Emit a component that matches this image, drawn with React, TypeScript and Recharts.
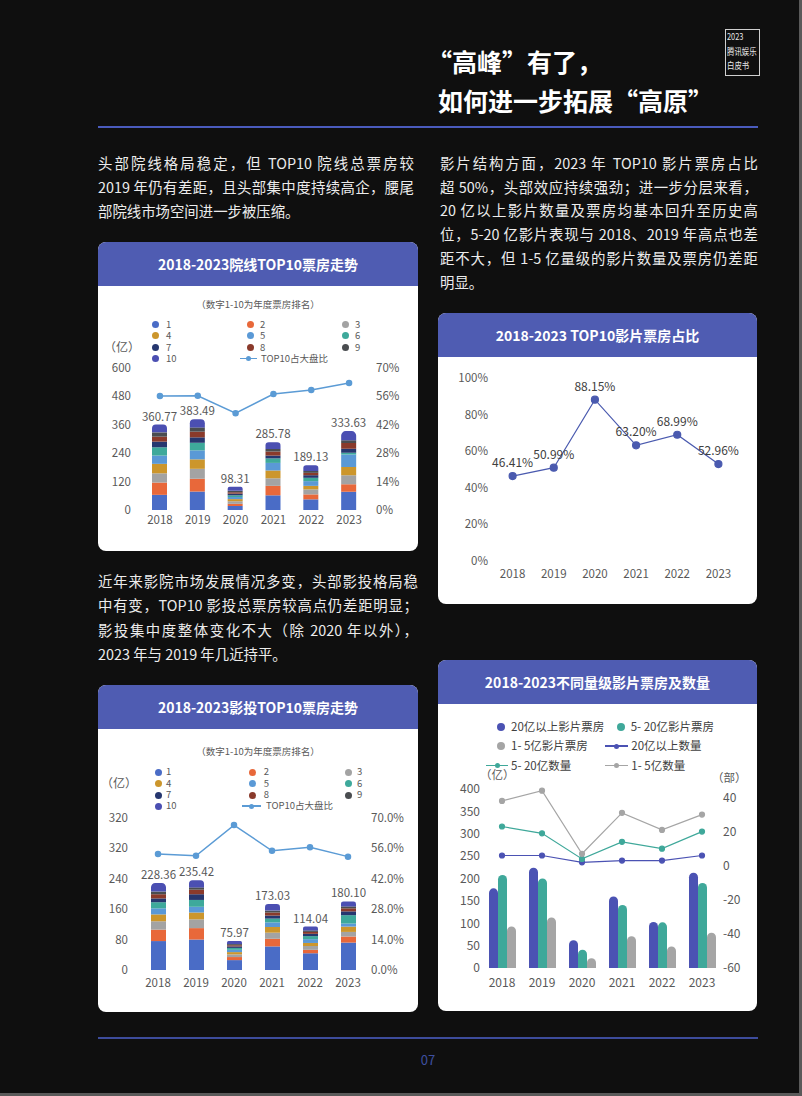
import React from "react";
import { ComposedChart, LineChart, Bar, Line, XAxis, YAxis, LabelList } from "recharts";

// ---- data ----
const years = ["2018", "2019", "2020", "2021", "2022", "2023"];
const rankNames = ["1", "2", "3", "4", "5", "6", "7", "8", "9", "10"];

// 院线 TOP10, one row per year, ranks 1..10 (亿)
const cinemaSegments = [
  [64, 52, 39, 40, 35, 35, 24, 21, 18, 32.77],
  [78, 54, 42, 40, 38, 32, 23, 24, 18, 34.49],
  [17, 9, 11, 9, 9, 7, 7, 6, 6, 17.31],
  [62, 40, 32, 33, 32, 19, 12, 17, 11, 27.78],
  [45, 21, 21, 15, 20, 14, 11, 10, 8, 24.13],
  [77, 32, 38, 35, 52, 8, 17, 24, 12, 38.63],
];
const cinemaTotals = [360.77, 383.49, 98.31, 285.78, 189.13, 333.63];
const cinemaShare = [56.2, 56.3, 47.7, 57.2, 59.2, 62.6];

// 影投 TOP10
const investorSegments = [
  [76, 30, 22, 18, 16, 16, 10, 11, 7, 22.36],
  [80, 30, 23, 18, 15, 18, 15, 12, 6, 18.42],
  [26, 8, 7, 6, 6, 5, 4, 3, 3, 7.97],
  [62, 20, 16, 15, 12, 10, 8, 8, 5, 17.03],
  [44, 9, 10, 8, 10, 8, 6, 5, 4, 10.04],
  [72, 16, 12, 14, 8, 22, 10, 8, 5, 13.1],
];
const investorTotals = [228.36, 235.42, 75.97, 173.03, 114.04, 180.1];
const investorShare = [53.3, 52.5, 66.6, 54.8, 56.4, 52.1];

// TOP10 影片票房占比 (%)
const filmShare = [46.41, 50.99, 88.15, 63.2, 68.99, 52.96];

// 不同量级
const bigBox = [178, 224, 62, 160, 103, 213];
const midBox = [208, 200, 41, 141, 102, 190];
const smallBox = [93, 113, 22, 71, 48, 79];
const bigCount = [6, 6, 2, 3, 3, 6];
const midCount = [23, 19, 4, 14, 10, 20];
const smallCount = [38, 44, 7, 31, 21, 30];

const cinemaLeftTicks = [0, 120, 240, 360, 480, 600];
const shareTicks = [0, 14, 28, 42, 56, 70];
const investorLeftTicks = [0, 80, 160, 240, 320, 400];
const investorLeftLabels = ["0", "80", "160", "240", "320", "320"];
const filmTicks = [0, 20, 40, 60, 80, 100];
const boxTicks = [0, 50, 100, 150, 200, 250, 300, 350, 400];
const countTicks = [-60, -40, -20, 0, 20, 40];

// ---- styles ----
const FONT = "'Noto Sans CJK SC','Noto Sans',sans-serif";
const AXIS = "#595959";
const HEAD = "#4f5cb2";
const rankColors = [
  "#4a6cc6", "#e8683a", "#a3a3a3", "#cc962c", "#5a99d6",
  "#3ea99b", "#26376f", "#8a3a2b", "#4a4d50", "#4b4fb2",
];
const BIG = "#4b52b3";
const MID = "#3fa89a";
const SMALL = "#a5a5a5";

const tickStyle = { fontSize: 11.5, fill: AXIS };

function Card({ x, y, w, h, title }: { x: number; y: number; w: number; h: number; title: string }) {
  return (
    <div style={{ position: "absolute", left: x, top: y, width: w, height: h, background: "#fff", borderRadius: 8, overflow: "hidden" }}>
      <div style={{ height: 44, background: HEAD, color: "#fff", fontWeight: 700, fontSize: 14, lineHeight: "44px", textAlign: "center" }}>
        {title}
      </div>
    </div>
  );
}

function Para({ lines, x, y, width, lh }: { lines: string[]; x: number; y: number; width: number; lh: number }) {
  return (
    <div style={{ position: "absolute", left: x, top: y, width, color: "#ececec", fontSize: 14.4, lineHeight: `${lh}px` }}>
      {lines.map((t, i) => (
        <div key={i} style={{ textAlign: "justify", textAlignLast: i < lines.length - 1 ? "justify" : "left" }}>
          {t}
        </div>
      ))}
    </div>
  );
}

function Txt({ x, y, children, size = 10, color = "#404040", center = false }: any) {
  return (
    <div style={{ position: "absolute", left: x, top: y, fontSize: size, color, lineHeight: "1", whiteSpace: "nowrap", transform: center ? "translateX(-50%)" : undefined }}>
      {children}
    </div>
  );
}

function Dot({ x, y, color, r = 3.5 }: { x: number; y: number; color: string; r?: number }) {
  return <div style={{ position: "absolute", left: x - r, top: y - r, width: r * 2, height: r * 2, borderRadius: "50%", background: color }} />;
}

function LineMark({ x1, x2, y, color }: { x1: number; x2: number; y: number; color: string }) {
  return (
    <>
      <div style={{ position: "absolute", left: x1, top: y - 0.75, width: x2 - x1, height: 1.5, background: color }} />
      <Dot x={(x1 + x2) / 2} y={y} color={color} r={2.5} />
    </>
  );
}

function RankLegend({ subX, subY, rows, dotXs, textXs, lineX1, lineX2, lineTextX, unitX, unitY }: any) {
  return (
    <>
      <Txt x={subX} y={subY - 5} size={9.5} color={AXIS} center>（数字1-10为年度票房排名）</Txt>
      {rankNames.map((n, i) => {
        const row = Math.floor(i / 3);
        const col = i % 3;
        return (
          <React.Fragment key={n}>
            <Dot x={dotXs[col]} y={rows[row]} color={rankColors[i]} />
            <Txt x={textXs[col]} y={rows[row] - 4.8} size={9.5} color={AXIS}>{n}</Txt>
          </React.Fragment>
        );
      })}
      <LineMark x1={lineX1} x2={lineX2} y={rows[3]} color="#5b9bd5" />
      <Txt x={lineTextX} y={rows[3] - 4.8} size={9.5} color={AXIS}>TOP10占大盘比</Txt>
      <Txt x={unitX} y={unitY - 6} size={12} color={AXIS}>（亿）</Txt>
    </>
  );
}

function RankChart({ segments, totals, share, x, y, w, h, top, leftW, rightW, xH, leftTicks, leftLabels, rightFmt, lm, rm, xm }: any) {
  const data = years.map((yr, yi) => {
    const row: any = { year: yr, total: totals[yi], share: share[yi] };
    rankNames.forEach((_, ri) => (row[`r${ri}`] = segments[yi][ri]));
    return row;
  });
  return (
    <div style={{ position: "absolute", left: x, top: y }}>
      <ComposedChart width={w} height={h} data={data} margin={{ top, right: 0, left: 0, bottom: 0 }}>
        <XAxis dataKey="year" axisLine={false} tickLine={false} tickSize={0} tickMargin={xm} height={xH} tick={tickStyle} />
        <YAxis yAxisId="left" domain={[leftTicks[0], leftTicks[leftTicks.length - 1]]} ticks={leftTicks} interval={0}
          tickFormatter={(v: number, i: number) => (leftLabels ? leftLabels[i] : String(v))}
          axisLine={false} tickLine={false} tickSize={0} tickMargin={lm} width={leftW} tick={tickStyle} />
        <YAxis yAxisId="right" orientation="right" domain={[0, 70]} ticks={shareTicks} interval={0} tickFormatter={rightFmt}
          axisLine={false} tickLine={false} tickSize={0} tickMargin={rm} width={rightW} tick={tickStyle} />
        {rankNames.map((n, ri) => (
          <Bar key={n} yAxisId="left" dataKey={`r${ri}`} stackId="s" fill={rankColors[ri]} barSize={15}
            radius={ri === 9 ? [7.5, 7.5, 0, 0] : 0} isAnimationActive={false}>
            {ri === 9 && (
              <LabelList dataKey="total" position="top" offset={4} formatter={(v: any) => Number(v).toFixed(2)}
                style={{ fontSize: 11.5, fill: AXIS }} />
            )}
          </Bar>
        ))}
        <Line yAxisId="right" dataKey="share" stroke="#5b9bd5" strokeWidth={1.5}
          dot={{ r: 2.5, fill: "#5b9bd5", stroke: "#5b9bd5" }} isAnimationActive={false} />
      </ComposedChart>
    </div>
  );
}

function FilmShareChart() {
  const data = years.map((yr, i) => ({ year: yr, share: filmShare[i] }));
  return (
    <div style={{ position: "absolute", left: 438, top: 357 }}>
      <LineChart width={319} height={247} data={data} margin={{ top: 21, right: 18, left: 0, bottom: 0 }}>
        <XAxis dataKey="year" axisLine={false} tickLine={false} tickSize={0} tickMargin={9} height={43} tick={tickStyle}
          padding={{ left: 20.6, right: 20.6 }} />
        <YAxis domain={[0, 100]} ticks={filmTicks} interval={0} tickFormatter={(v: number) => `${v}%`}
          axisLine={false} tickLine={false} tickSize={0} tickMargin={4} width={54} tick={tickStyle} />
        <Line dataKey="share" stroke="#4a5aaf" strokeWidth={1.2} dot={{ r: 3.5, fill: "#4a5aaf", stroke: "#4a5aaf" }} isAnimationActive={false}>
          <LabelList dataKey="share" position="top" offset={9} formatter={(v: any) => `${Number(v).toFixed(2)}%`}
            style={{ fontSize: 12, fill: "#404040" }} />
        </Line>
      </LineChart>
    </div>
  );
}

function TierChart() {
  const data = years.map((yr, i) => ({
    year: yr, big: bigBox[i], mid: midBox[i], small: smallBox[i],
    bigN: bigCount[i], midN: midCount[i], smallN: smallCount[i],
  }));
  const r: [number, number, number, number] = [4.5, 4.5, 0, 0];
  return (
    <div style={{ position: "absolute", left: 438, top: 704 }}>
      <ComposedChart width={319} height={307} data={data} barGap={0} margin={{ top: 85, right: 0, left: 0, bottom: 0 }}>
        <XAxis dataKey="year" axisLine={false} tickLine={false} tickSize={0} tickMargin={10} height={43} tick={{ fontSize: 12, fill: AXIS }} />
        <YAxis yAxisId="l" domain={[0, 400]} ticks={boxTicks} interval={0} axisLine={false} tickLine={false}
          tickSize={0} tickMargin={2} width={44} tick={{ fontSize: 12, fill: AXIS }} />
        <YAxis yAxisId="r" orientation="right" domain={[-60, 45]} ticks={countTicks} interval={0} axisLine={false} tickLine={false}
          tickSize={0} tickMargin={1} width={35} tick={{ fontSize: 12, fill: AXIS }} />
        <Bar yAxisId="l" dataKey="big" fill={BIG} barSize={9} radius={r} isAnimationActive={false} />
        <Bar yAxisId="l" dataKey="mid" fill={MID} barSize={9} radius={r} isAnimationActive={false} />
        <Bar yAxisId="l" dataKey="small" fill={SMALL} barSize={9} radius={r} isAnimationActive={false} />
        <Line yAxisId="r" dataKey="bigN" stroke={BIG} strokeWidth={1.2} dot={{ r: 2.5, fill: BIG, stroke: BIG }} isAnimationActive={false} />
        <Line yAxisId="r" dataKey="midN" stroke={MID} strokeWidth={1.2} dot={{ r: 2.5, fill: MID, stroke: MID }} isAnimationActive={false} />
        <Line yAxisId="r" dataKey="smallN" stroke={SMALL} strokeWidth={1.2} dot={{ r: 2.5, fill: SMALL, stroke: SMALL }} isAnimationActive={false} />
      </ComposedChart>
    </div>
  );
}

const para1 = [
  "头部院线格局稳定，但 TOP10 院线总票房较",
  "2019 年仍有差距，且头部集中度持续高企，腰尾",
  "部院线市场空间进一步被压缩。",
];
const para2 = [
  "影片结构方面，2023 年 TOP10 影片票房占比",
  "超 50%，头部效应持续强劲；进一步分层来看，",
  "20 亿以上影片数量及票房均基本回升至历史高",
  "位，5-20 亿影片表现与 2018、2019 年高点也差",
  "距不大，但 1-5 亿量级的影片数量及票房仍差距",
  "明显。",
];
const para3 = [
  "近年来影院市场发展情况多变，头部影投格局稳",
  "中有变，TOP10 影投总票房较高点仍差距明显；",
  "影投集中度整体变化不大（除 2020 年以外），",
  "2023 年与 2019 年几近持平。",
];

const logoLine: React.CSSProperties = { whiteSpace: "nowrap", transform: "scaleX(0.82)", transformOrigin: "left" };

export default function App() {
  return (
    <div style={{ position: "absolute", left: 0, top: 0, width: 802, height: 1096, background: "#0f0f0f", overflow: "hidden", fontFamily: FONT }}>
      {/* logo */}
      <div style={{ position: "absolute", left: 725, top: 29, width: 32, height: 45, border: "1px solid #cfcfcf", color: "#e6e6e6", fontSize: 9, lineHeight: "14.5px", paddingLeft: 1, overflow: "hidden" }}>
        <div style={logoLine}>2023</div>
        <div style={logoLine}>腾讯娱乐</div>
        <div style={logoLine}>白皮书</div>
      </div>
      <div style={{ position: "absolute", left: 427, top: 46, color: "#fff", fontSize: 25, fontWeight: 700, lineHeight: "30px", whiteSpace: "nowrap" }}>“高峰”有了，</div>
      <div style={{ position: "absolute", left: 438, top: 85, color: "#fff", fontSize: 25, fontWeight: 700, lineHeight: "30px", whiteSpace: "nowrap" }}>如何进一步拓展“高原”</div>
      <div style={{ position: "absolute", left: 98, top: 126, width: 660, height: 2, background: "#4a5bbd" }} />

      <Para lines={para1} x={98} y={151} width={316} lh={24} />
      <Para lines={para2} x={440} y={151} width={318} lh={23.7} />
      <Para lines={para3} x={98} y={569} width={320} lh={24.4} />

      <Card x={98} y={242} w={320} h={309} title="2018-2023院线TOP10票房走势" />
      <RankLegend subX={258} subY={305} rows={[324.3, 335.7, 347.3, 358.3]} dotXs={[155.3, 250.7, 345.3]} textXs={[166, 260, 355]}
        lineX1={239.7} lineX2={257} lineTextX={261} unitX={104} unitY={347} />
      <RankChart segments={cinemaSegments} totals={cinemaTotals} share={cinemaShare}
        x={98} y={285} w={320} h={266} top={83} leftW={43} rightW={50} xH={41}
        leftTicks={cinemaLeftTicks} rightFmt={(v: number) => `${v}%`} lm={10} rm={8} xm={6} />

      <Card x={438} y={313} w={319} h={291} title="2018-2023 TOP10影片票房占比" />
      <FilmShareChart />

      <Card x={98} y={685} w={320} h={327} title="2018-2023影投TOP10票房走势" />
      <RankLegend subX={258} subY={752} rows={[772, 783.7, 795, 806]} dotXs={[158, 252, 348.7]} textXs={[166, 263.7, 357]}
        lineX1={242} lineX2={261} lineTextX={266} unitX={101} unitY={783} />
      <RankChart segments={investorSegments} totals={investorTotals} share={investorShare}
        x={98} y={729} w={320} h={283} top={88.7} leftW={41} rightW={51} xH={42}
        leftTicks={investorLeftTicks} leftLabels={investorLeftLabels} rightFmt={(v: number) => `${v.toFixed(1)}%`} lm={11} rm={4} xm={9} />

      <Card x={438} y={660} w={319} h={351} title="2018-2023不同量级影片票房及数量" />
      <Dot x={501.3} y={727.3} color={BIG} r={4} />
      <Txt x={511} y={721.3} size={11.5}>20亿以上影片票房</Txt>
      <Dot x={620.7} y={727.3} color={MID} r={4} />
      <Txt x={630.7} y={721.3} size={11.5}>5- 20亿影片票房</Txt>
      <Dot x={501.3} y={746} color={SMALL} r={4} />
      <Txt x={511} y={740} size={11.5}>1- 5亿影片票房</Txt>
      <LineMark x1={604.7} x2={628} y={746} color={BIG} />
      <Txt x={631.3} y={740} size={11.5}>20亿以上数量</Txt>
      <LineMark x1={486.3} x2={508} y={765.7} color={MID} />
      <Txt x={511} y={759.7} size={11.5}>5- 20亿数量</Txt>
      <LineMark x1={604.7} x2={628} y={765.7} color={SMALL} />
      <Txt x={631.3} y={759.7} size={11.5}>1- 5亿数量</Txt>
      <Txt x={480} y={769} size={11.5} color={AXIS}>（亿）</Txt>
      <Txt x={712} y={772} size={11.5} color={AXIS}>（部）</Txt>
      <TierChart />

      <div style={{ position: "absolute", left: 98, top: 1037, width: 660, height: 1.5, background: "#3d4c9c" }} />
      <Txt x={428} y={1053} size={13} color="#3e4fa0" center>07</Txt>

      <div style={{ position: "absolute", right: 0, top: 0, width: 3, height: 1096, background: "#5a5a5a" }} />
      <div style={{ position: "absolute", left: 0, bottom: 0, width: 802, height: 3, background: "#5a5a5a" }} />
    </div>
  );
}
